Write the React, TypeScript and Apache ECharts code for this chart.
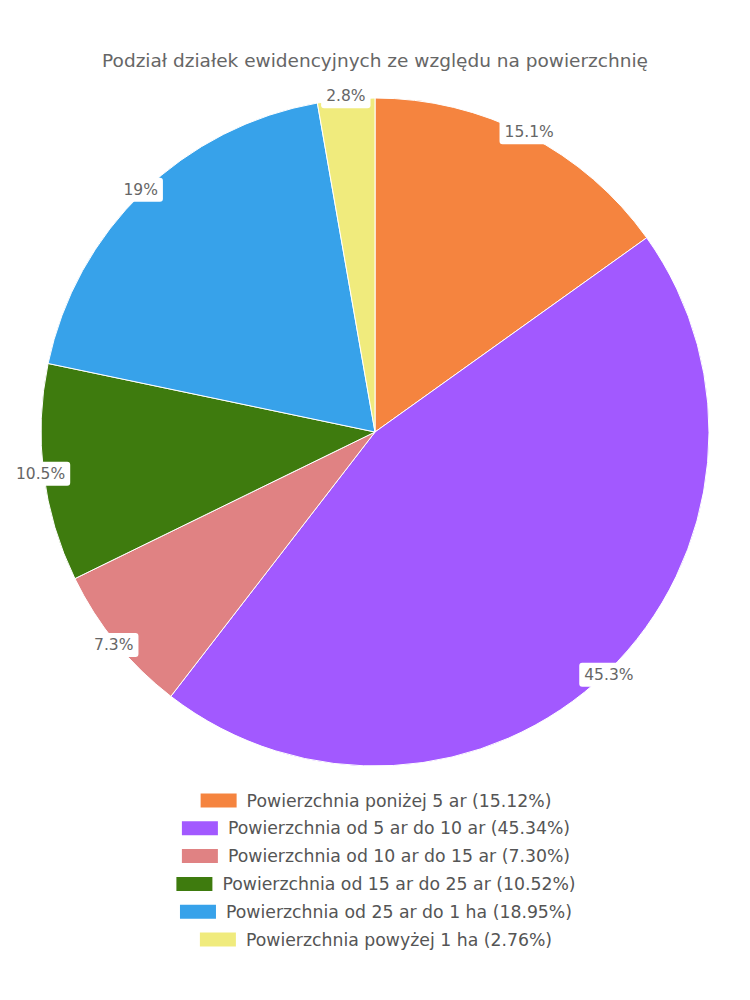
import React, { useEffect, useRef } from "react";
import * as echarts from "echarts";

const titleText = "Podział działek ewidencyjnych ze względu na powierzchnię";
const categories = [
  "Powierzchnia poniżej 5 ar",
  "Powierzchnia od 5 ar do 10 ar",
  "Powierzchnia od 10 ar do 15 ar",
  "Powierzchnia od 15 ar do 25 ar",
  "Powierzchnia od 25 ar do 1 ha",
  "Powierzchnia powyżej 1 ha",
];
const values = [15.12, 45.34, 7.3, 10.52, 18.95, 2.76];
const colors = ["#F5843F", "#A259FF", "#E08283", "#3E7B0E", "#37A2EA", "#F0EB7D"];

const FONT = "DejaVu Sans";

export default function App() {
  const ref = useRef<HTMLDivElement>(null);
  useEffect(() => {
    if (!ref.current) return;
    const chart = echarts.init(ref.current, null, { renderer: "svg" });
    const names = categories.map((c, i) => `${c} (${values[i].toFixed(2)}%)`);
    const data = names.map((n, i) => ({
      name: n,
      value: values[i],
      itemStyle: { color: colors[i] },
    }));
    const overlay = names.map((n, i) => ({
      name: n,
      value: values[i],
      itemStyle: { color: "rgba(0,0,0,0)" },
    }));
    const legends = names.map((n, i) => ({
      show: true,
      orient: "horizontal",
      left: "center",
      top: 786.5 + i * 27.8,
      itemWidth: 38,
      itemHeight: 16,
      itemGap: 8,
      icon: "rect",
      selectedMode: false,
      data: [n],
      textStyle: { fontFamily: FONT, fontSize: 17.3, color: "#555", padding: [0, 0, 0, 4] },
    }));
    chart.setOption({
      animation: false,
      color: colors,
      title: {
        text: titleText,
        left: "center",
        top: 46,
        textStyle: { fontFamily: FONT, fontSize: 18.5, fontWeight: "normal", color: "#666" },
      },
      legend: legends,
      series: [
        {
          type: "pie",
          center: [375, 432],
          radius: [0, 334],
          startAngle: 90,
          clockwise: true,
          label: { show: false },
          labelLine: { show: false },
          itemStyle: { borderColor: "#fff", borderWidth: 1 },
          emphasis: { disabled: true },
          data,
        },
        {
          type: "pie",
          center: [375, 432],
          radius: [300, 368],
          startAngle: 90,
          clockwise: true,
          silent: true,
          legendHoverLink: false,
          emphasis: { disabled: true },
          labelLine: { show: false },
          label: {
            show: true,
            position: "inside",
            formatter: (p: any) => `${Math.round(p.value * 10) / 10}%`,
            fontFamily: FONT,
            fontSize: 15.5,
            color: "#666",
            backgroundColor: "#fff",
            borderRadius: 3,
            padding: [4, 5],
          },
          data: overlay,
        },
      ],
    });
    return () => chart.dispose();
  }, []);
  return (
    <div
      ref={ref}
      style={{ position: "fixed", left: 0, top: 0, width: 750, height: 1000, background: "#fff" }}
    />
  );
}
